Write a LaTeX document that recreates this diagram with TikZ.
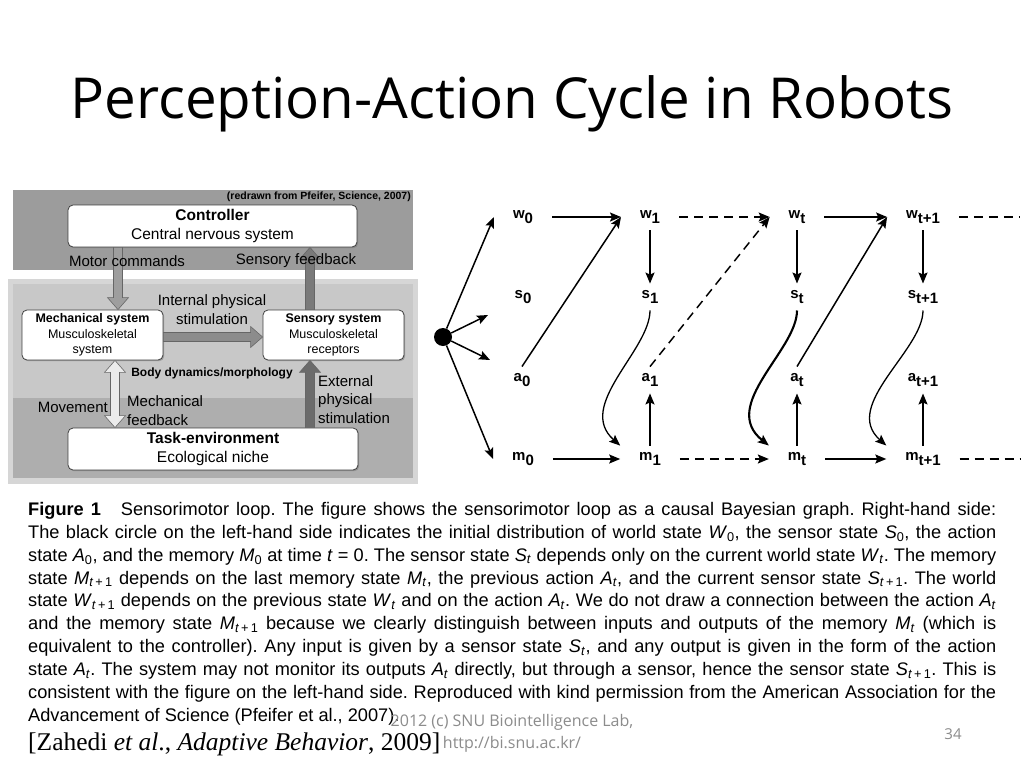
\documentclass[tikz,border=0pt]{standalone}
\usepackage{fontspec}
\setmainfont{Liberation Sans}
\newfontfamily\titlefont{Open Sans}
\newfontfamily\footfont{Open Sans}
\newfontfamily\citefont{Liberation Serif}
\usepackage{tikz}
\usetikzlibrary{arrows.meta,shadows,calc}
\definecolor{topgray}{RGB}{156,156,156}
\definecolor{midgray}{RGB}{200,200,200}
\definecolor{lowgray}{RGB}{174,174,174}
\definecolor{framegray}{RGB}{214,214,214}
\definecolor{footgray}{RGB}{140,140,140}

\newcommand{\gv}[2]{\textbf{#1\raisebox{-0.6ex}{#2}}}
\newcommand{\cv}[2]{\textit{#1}\textsubscript{#2}}
\newcommand{\subt}{\textit{t}}
\newcommand{\subtp}{\textit{t}\,+\,1}

\begin{document}
\begin{tikzpicture}[
	x=1pt, y=-1pt,
	box/.style={draw=black!75, line width=0.8pt, fill=white, rounded corners=5pt, align=center, inner sep=0pt,
		drop shadow={shadow xshift=1.2pt, shadow yshift=-1.2pt, fill=black!55}},
	lbl/.style={font=\fontsize{15}{19}\selectfont, inner sep=0pt},
	blockarrow/.style={draw=black!60, line width=0.6pt, fill=#1,
		to path={let \p1=(\tikztostart), \p2=(\tikztotarget), \n1={atan2(\y2-\y1,\x2-\x1)}, \n2={veclen(\x2-\x1,\y2-\y1)} in
			(\p1) -- ++(\n1+90:4.5pt) -- ++(\n1:\n2-12pt) -- ++(\n1+90:6pt) -- (\p2)
			-- ++(\n1+221.19:15.945pt) -- ++(\n1+90:6pt) -- ++(\n1+180:\n2-12pt) -- cycle}},
	twoheadarrow/.style={draw=black!60, line width=0.6pt, fill=#1,
		to path={let \p1=(\tikztostart), \p2=(\tikztotarget), \n1={atan2(\y2-\y1,\x2-\x1)}, \n2={veclen(\x2-\x1,\y2-\y1)} in
			(\p1) -- ++(\n1+41.19:15.945pt) -- ++(\n1-90:6pt) -- ++(\n1:\n2-24pt) -- ++(\n1+90:6pt) -- (\p2)
			-- ++(\n1+221.19:15.945pt) -- ++(\n1+90:6pt) -- ++(\n1+180:\n2-24pt) -- ++(\n1-90:6pt) -- cycle}},
	var/.style={font=\fontsize{15}{15}\selectfont, inner sep=1pt, outer xsep=18pt, outer ysep=6pt},
	arr/.style={line width=1.5pt, -{Stealth[length=11pt, width=9pt, inset=2pt]}},
	dasharr/.style={arr, dash pattern=on 9pt off 6pt},
	dashline/.style={line width=1.5pt, dash pattern=on 9pt off 6pt}
	]
	\useasboundingbox (0,0) rectangle (1024,768);
	\fill[white] (0,0) rectangle (1024,768);

	% Titolo
	\node[font=\titlefont\fontsize{56.5}{60}\selectfont, anchor=base, inner sep=0pt] (title) at (512,118) {Perception-Action Cycle in Robots};

	% Pannelli grigi (Pfeifer)
	\fill[topgray] (13,190) rectangle (413,270);
	\fill[framegray] (8,279) rectangle (418,484);
	\fill[midgray] (13,284) rectangle (413,398);
	\fill[lowgray] (13,398) rectangle (413,478);
	\node[anchor=east, inner sep=0pt, font=\fontsize{10.5}{12}\selectfont\bfseries] (redrawn) at (411,197) {(redrawn from Pfeifer, Science, 2007)};

	% Riquadri
	\node[box, minimum width=289pt, minimum height=42pt, font=\fontsize{15.5}{19}\selectfont] (ctrl) at (212.5,226) {
		\textbf{Controller} \\
		Central nervous system
	};
	\node[box, minimum width=141pt, minimum height=50pt, font=\fontsize{12.5}{15.5}\selectfont] (mech) at (92.5,335) {
		\textbf{Mechanical system} \\
		Musculoskeletal \\
		system
	};
	\node[box, minimum width=141pt, minimum height=50pt, font=\fontsize{12.5}{15.5}\selectfont] (sens) at (333.5,335) {
		\textbf{Sensory system} \\
		Musculoskeletal \\
		receptors
	};
	\node[box, minimum width=290pt, minimum height=42pt, font=\fontsize{15.5}{19}\selectfont] (task) at (213,449) {
		\textbf{Task-environment} \\
		Ecological niche
	};

	% Frecce a blocco
	\draw[blockarrow=black!38] (ctrl.south -| 118,0) to (mech.north -| 118,0);
	\draw[blockarrow=black!52] (sens.north -| 310,0) to (ctrl.south -| 310,0);
	\draw[blockarrow=black!45] (mech.east |- 0,337) to (sens.west |- 0,337);
	\draw[twoheadarrow=black!8] (mech.south -| 115,0) to (task.north -| 115,0);
	\draw[blockarrow=black!58] (task.north -| 310,0) to (sens.south -| 310,0);

	% Etichette
	\node[lbl] (motor) at (127,261) {Motor commands};
	\node[lbl] (feedback) at (296,261) {Sensory feedback};
	\node[lbl, align=center] (internal) at (212,310) {Internal physical\\stimulation};
	\node[inner sep=0pt, font=\fontsize{12}{14}\selectfont\bfseries] (body) at (212,373) {Body dynamics/morphology};
	\node[lbl, anchor=north west, align=left, font=\fontsize{15}{18.5}\selectfont] (external) at (318,375) {External\\physical\\stimulation};
	\node[lbl, anchor=east] (movement) at (108,407) {Movement};
	\node[lbl, anchor=north west, align=left] (mechfb) at (127,395) {Mechanical\\feedback};

	% Grafo bayesiano
	\node[circle, fill=black, minimum size=18pt, inner sep=0pt] (init) at (443,337) {};
	\node[var] (w0) at (523,217) {\gv{w}{0}};
	\node[var] (w1) at (650,217) {\gv{w}{1}};
	\node[var] (wt) at (797,217) {\gv{w}{t}};
	\node[var] (wt1) at (923,217) {\gv{w}{t+1}};
	\node[var] (s0) at (523,297) {\gv{s}{0}};
	\node[var] (s1) at (650,297) {\gv{s}{1}};
	\node[var] (st) at (797,297) {\gv{s}{t}};
	\node[var] (st1) at (923,297) {\gv{s}{t+1}};
	\node[var] (a0) at (522,380) {\gv{a}{0}};
	\node[var] (a1) at (650,380) {\gv{a}{1}};
	\node[var] (at) at (797,380) {\gv{a}{t}};
	\node[var] (at1) at (923,380) {\gv{a}{t+1}};
	\node[var] (m0) at (523,459) {\gv{m}{0}};
	\node[var] (m1) at (650,459) {\gv{m}{1}};
	\node[var] (mt) at (797,459) {\gv{m}{t}};
	\node[var] (mt1) at (923,459) {\gv{m}{t+1}};
	\coordinate (s0in) at (488,315);
	\coordinate (a0in) at (490,360);
	\coordinate (wend) at (1020,217);
	\coordinate (mend) at (1020,459);

	% Distribuzione iniziale
	\draw[arr] (init) -- (w0.west);
	\draw[arr] (init) -- (s0in);
	\draw[arr] (init) -- (a0in);
	\draw[arr] (init) -- (m0.west);

	% Mondo e memoria
	\draw[arr] (w0) -- (w1);
	\draw[dasharr] (w1) -- (wt);
	\draw[arr] (wt) -- (wt1);
	\draw[dashline] (wt1) -- (wend);
	\draw[arr] (m0) -- (m1);
	\draw[dasharr] (m1) -- (mt);
	\draw[arr] (mt) -- (mt1);
	\draw[dashline] (mt1) -- (mend);
	\draw[arr] (w1) -- (s1);
	\draw[arr] (wt) -- (st);
	\draw[arr] (wt1) -- (st1);
	\draw[arr] (m1) -- (a1);
	\draw[arr] (mt) -- (at);
	\draw[arr] (mt1) -- (at1);

	% Azioni verso il mondo
	\draw[arr] (a0.north) -- (w1.west);
	\draw[dasharr] (a1.north) -- (wt.west);
	\draw[arr] (at.north) -- (wt1.west);

	% Sensori verso la memoria
	\draw[arr, line width=1.3pt] (s1.south) .. controls +(0,40) and +(-45,-40) .. (m1.north west);
	\draw[arr, line width=2.1pt] (st.south) .. controls +(0,40) and +(-50,-40) .. (mt.north west);
	\draw[arr, line width=1.3pt] (st1.south) .. controls +(0,40) and +(-45,-40) .. (mt1.north west);

	% Didascalia
	\node[anchor=north west, inner sep=0pt, align=left, font=\fontsize{18.2}{22.9}\selectfont\frenchspacing] (caption) at (28,502) {
		\makebox[968pt][s]{\textbf{Figure 1}\hspace{20pt}Sensorimotor loop. The figure shows the sensorimotor loop as a causal Bayesian graph. Right-hand side:} \\
		\makebox[968pt][s]{The black circle on the left-hand side indicates the initial distribution of world state \cv{W}{0}, the sensor state \cv{S}{0}, the action} \\
		\makebox[968pt][s]{state \cv{A}{0}, and the memory \cv{M}{0} at time \textit{t} = 0. The sensor state \cv{S}{\subt} depends only on the current world state \cv{W}{\subt}. The memory} \\
		\makebox[968pt][s]{state \cv{M}{\subtp} depends on the last memory state \cv{M}{\subt}, the previous action \cv{A}{\subt}, and the current sensor state \cv{S}{\subtp}. The world} \\
		\makebox[968pt][s]{state \cv{W}{\subtp} depends on the previous state \cv{W}{\subt} and on the action \cv{A}{\subt}. We do not draw a connection between the action \cv{A}{\subt}} \\
		\makebox[968pt][s]{and the memory state \cv{M}{\subtp} because we clearly distinguish between inputs and outputs of the memory \cv{M}{\subt} (which is} \\
		\makebox[968pt][s]{equivalent to the controller). Any input is given by a sensor state \cv{S}{\subt}, and any output is given in the form of the action} \\
		\makebox[968pt][s]{state \cv{A}{\subt}. The system may not monitor its outputs \cv{A}{\subt} directly, but through a sensor, hence the sensor state \cv{S}{\subtp}. This is} \\
		\makebox[968pt][s]{consistent with the figure on the left-hand side. Reproduced with kind permission from the American Association for the} \\
		Advancement of Science (Pfeifer et al., 2007).
	};

	% Piede di pagina
	\node[anchor=base west, inner sep=0pt, font=\citefont\fontsize{25.5}{25.5}\selectfont] (cite) at (28,750) {[Zahedi \textit{et al}., \textit{Adaptive Behavior}, 2009]};
	\node[align=center, inner sep=0pt, text=footgray, font=\footfont\fontsize{16}{22}\selectfont] (lab) at (512,733) {2012 (c) SNU Biointelligence Lab,\\http://bi.snu.ac.kr/};
	\node[inner sep=0pt, text=footgray, font=\footfont\fontsize{15}{15}\selectfont] (page) at (953,734) {34};
\end{tikzpicture}
\end{document}
